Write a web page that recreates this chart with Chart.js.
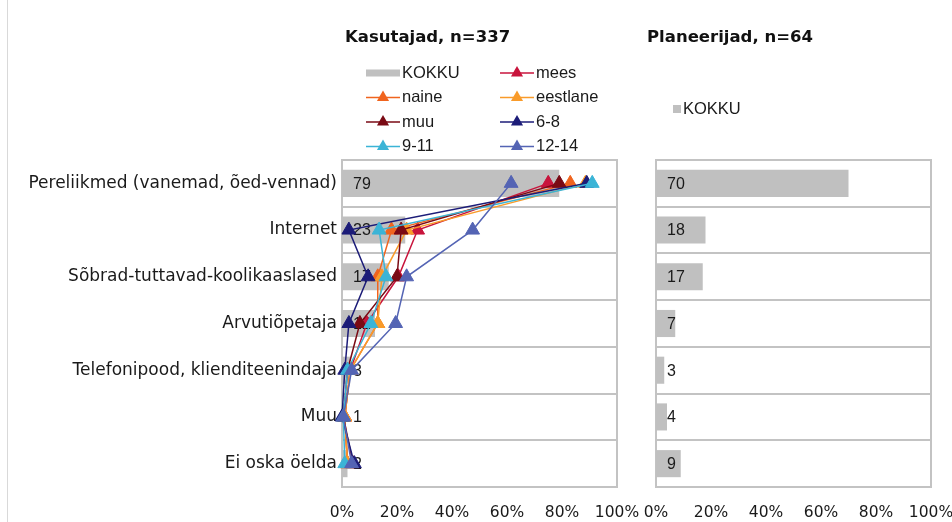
<!DOCTYPE html>
<html><head><meta charset="utf-8">
<script src="https://cdn.jsdelivr.net/npm/chart.js@4/dist/chart.umd.min.js"></script>
<style>
html,body{margin:0;padding:0;background:#fff;}
#wrap{position:relative;width:952px;height:522px;background:#fff;overflow:hidden;}
#wrap canvas{position:absolute;left:0;top:0;}
#edge{position:absolute;left:7px;top:0;width:1px;height:522px;background:#d9d9d9;}
</style></head><body>
<div id="wrap"><div id="edge"></div><canvas id="c1" width="952" height="522"></canvas><canvas id="c2" width="952" height="522"></canvas></div>
<script>
// ---- data ----
const categories = ["Pereliikmed (vanemad, õed-vennad)", "Internet", "Sõbrad-tuttavad-koolikaaslased", "Arvutiõpetaja", "Telefonipood, klienditeenindaja", "Muu", "Ei oska öelda"];
const kokkuKasutajad = [79, 23, 17, 12, 3, 1, 2];
const kokkuPlaneerijad = [70, 18, 17, 7, 3, 4, 9];
const mees     = [75, 27.5, 20.5, 9, 3, 1, 2];
const naine    = [83, 18, 13, 13, 3, 1, 2];
const eestlane = [88.5, 23.5, 14.5, 13, 3, 1, 2];
const muu      = [79, 21.5, 20, 6.5, 2, 0.5, 4];
const vanus6_8   = [89, 2.5, 9.5, 2.5, 1, 0, 4.5];
const vanus9_11  = [91, 13.5, 16, 10.5, 2, 0.5, 1];
const vanus12_14 = [61.5, 47.5, 23.5, 19.5, 3.5, 0.5, 3.5];
const xTicks = [0, 20, 40, 60, 80, 100];
const titleLeft = "Kasutajad, n=337";
const titleRight = "Planeerijad, n=64";
const seriesNames = ["mees", "naine", "eestlane", "muu", "6-8", "9-11", "12-14"];
const seriesValues = [mees, naine, eestlane, muu, vanus6_8, vanus9_11, vanus12_14];

// ---- styles ----
const seriesColors = ["#C8143C", "#F0641E", "#F99B2A", "#7A0A14", "#1C1C78", "#3BB4D6", "#5464B4"];
const barColor = "#c0c0c0";
const gridColor = "#c3c3c3";
Chart.defaults.font.family = "'DejaVu Sans', Verdana, sans-serif";
Chart.defaults.color = "#1a1a1a";

function tri(ctx, x, y, r, color) {
  const a = 2 * Math.PI / 3;
  ctx.beginPath();
  ctx.moveTo(x, y - r);
  ctx.lineTo(x + Math.sin(a) * r, y - Math.cos(a) * r);
  ctx.lineTo(x + Math.sin(2 * a) * r, y - Math.cos(2 * a) * r);
  ctx.closePath();
  ctx.fillStyle = color; ctx.fill();
}

const framePlugin = {
  id: 'frame',
  beforeDatasetsDraw(chart) {
    const a = chart.chartArea, ctx = chart.ctx;
    ctx.save();
    ctx.strokeStyle = gridColor; ctx.lineWidth = 2;
    ctx.strokeRect(a.left, a.top, a.right - a.left, a.bottom - a.top);
    ctx.restore();
  }
};

const barLabelPlugin = {
  id: 'barLabels',
  afterDatasetDraw(chart, args) {
    const ds = chart.data.datasets[args.index];
    if (ds.type !== 'bar') return;
    const ctx = chart.ctx;
    ctx.save();
    ctx.font = "16px 'Liberation Sans', Arial, sans-serif";
    ctx.fillStyle = "#1a1a1a";
    ctx.textAlign = 'left'; ctx.textBaseline = 'middle';
    args.meta.data.forEach((el, i) => {
      ctx.fillText(String(ds.data[i]), chart.chartArea.left + 11, el.y + 1);
    });
    ctx.restore();
  }
};

const headLeftPlugin = {
  id: 'headLeft',
  afterDraw(chart) {
    const ctx = chart.ctx;
    ctx.save();
    ctx.font = "bold 16.5px 'DejaVu Sans', Verdana, sans-serif";
    ctx.fillStyle = "#111"; ctx.textBaseline = 'middle'; ctx.textAlign = 'left';
    ctx.fillText(titleLeft, 345, 38);
    ctx.font = "16.5px 'Liberation Sans', Arial, sans-serif";
    const items = [{name: "KOKKU", bar: true}].concat(seriesNames.map((n, i) => ({name: n, color: seriesColors[i]})));
    items.forEach((it, k) => {
      const col = k % 2, row = Math.floor(k / 2);
      const x0 = col === 0 ? 366 : 500;
      const y = 73 + row * 24.5;
      if (it.bar) {
        ctx.fillStyle = barColor;
        ctx.fillRect(x0, y - 3.5, 34, 7);
      } else {
        ctx.strokeStyle = it.color; ctx.lineWidth = 1.5;
        ctx.beginPath(); ctx.moveTo(x0, y); ctx.lineTo(x0 + 34, y); ctx.stroke();
        tri(ctx, x0 + 17, y, 7, it.color);
      }
      ctx.fillStyle = "#1a1a1a";
      ctx.fillText(it.name, x0 + 36, y);
    });
    ctx.restore();
  }
};

const headRightPlugin = {
  id: 'headRight',
  afterDraw(chart) {
    const ctx = chart.ctx;
    ctx.save();
    ctx.font = "bold 16.5px 'DejaVu Sans', Verdana, sans-serif";
    ctx.fillStyle = "#111"; ctx.textBaseline = 'middle'; ctx.textAlign = 'left';
    ctx.fillText(titleRight, 647, 38);
    ctx.fillStyle = barColor;
    ctx.fillRect(673, 105, 8, 8);
    ctx.font = "16.5px 'Liberation Sans', Arial, sans-serif";
    ctx.fillStyle = "#1a1a1a";
    ctx.fillText("KOKKU", 683, 109);
    ctx.restore();
  }
};

function xScale() {
  return {
    type: 'linear', position: 'bottom', min: 0, max: 100,
    grid: {display: false}, border: {display: false},
    afterBuildTicks: s => { s.ticks = xTicks.map(v => ({value: v})); },
    ticks: {font: {size: 15.5}, color: '#1a1a1a', padding: 9, callback: v => v + '%'},
    afterFit: s => { s.height = 35; s.paddingLeft = 0; s.paddingRight = 0; }
  };
}

const lineSets = seriesNames.map((n, i) => ({
  type: 'line', label: n, data: seriesValues[i], indexAxis: 'y',
  borderColor: seriesColors[i], backgroundColor: seriesColors[i], borderWidth: 1.5,
  pointStyle: 'triangle', pointRadius: 8, pointBorderWidth: 1,
  pointBackgroundColor: seriesColors[i], pointBorderColor: seriesColors[i],
  fill: false, tension: 0, clip: false, order: seriesNames.length - i
}));

new Chart(document.getElementById('c1'), {
  type: 'bar',
  data: {
    labels: categories,
    datasets: [{type: 'bar', label: 'KOKKU', data: kokkuKasutajad, backgroundColor: barColor,
      barPercentage: 1, categoryPercentage: 0.58, order: 100, indexAxis: 'y'}].concat(lineSets)
  },
  options: {
    indexAxis: 'y', responsive: false, animation: false,
    layout: {padding: {top: 160, left: 0, right: 335, bottom: 0}},
    plugins: {legend: {display: false}, tooltip: {enabled: false}},
    scales: {
      x: xScale(),
      y: {
        type: 'category', position: 'left',
        grid: {offset: true, color: gridColor, lineWidth: 2, drawTicks: false},
        border: {display: false},
        ticks: {font: {size: 17}, color: '#1a1a1a', padding: 5},
        afterFit: s => { s.width = 342; }
      }
    }
  },
  plugins: [framePlugin, barLabelPlugin, headLeftPlugin]
});

new Chart(document.getElementById('c2'), {
  type: 'bar',
  data: {
    labels: categories,
    datasets: [{type: 'bar', label: 'KOKKU', data: kokkuPlaneerijad, backgroundColor: barColor,
      barPercentage: 1, categoryPercentage: 0.58, indexAxis: 'y'}]
  },
  options: {
    indexAxis: 'y', responsive: false, animation: false,
    layout: {padding: {top: 160, left: 656, right: 21, bottom: 0}},
    plugins: {legend: {display: false}, tooltip: {enabled: false}},
    scales: {
      x: xScale(),
      y: {
        type: 'category', position: 'left',
        grid: {offset: true, color: gridColor, lineWidth: 2, drawTicks: false},
        border: {display: false},
        ticks: {display: false},
        afterFit: s => { s.width = 0; }
      }
    }
  },
  plugins: [framePlugin, barLabelPlugin, headRightPlugin]
});
</script>
</body></html>
